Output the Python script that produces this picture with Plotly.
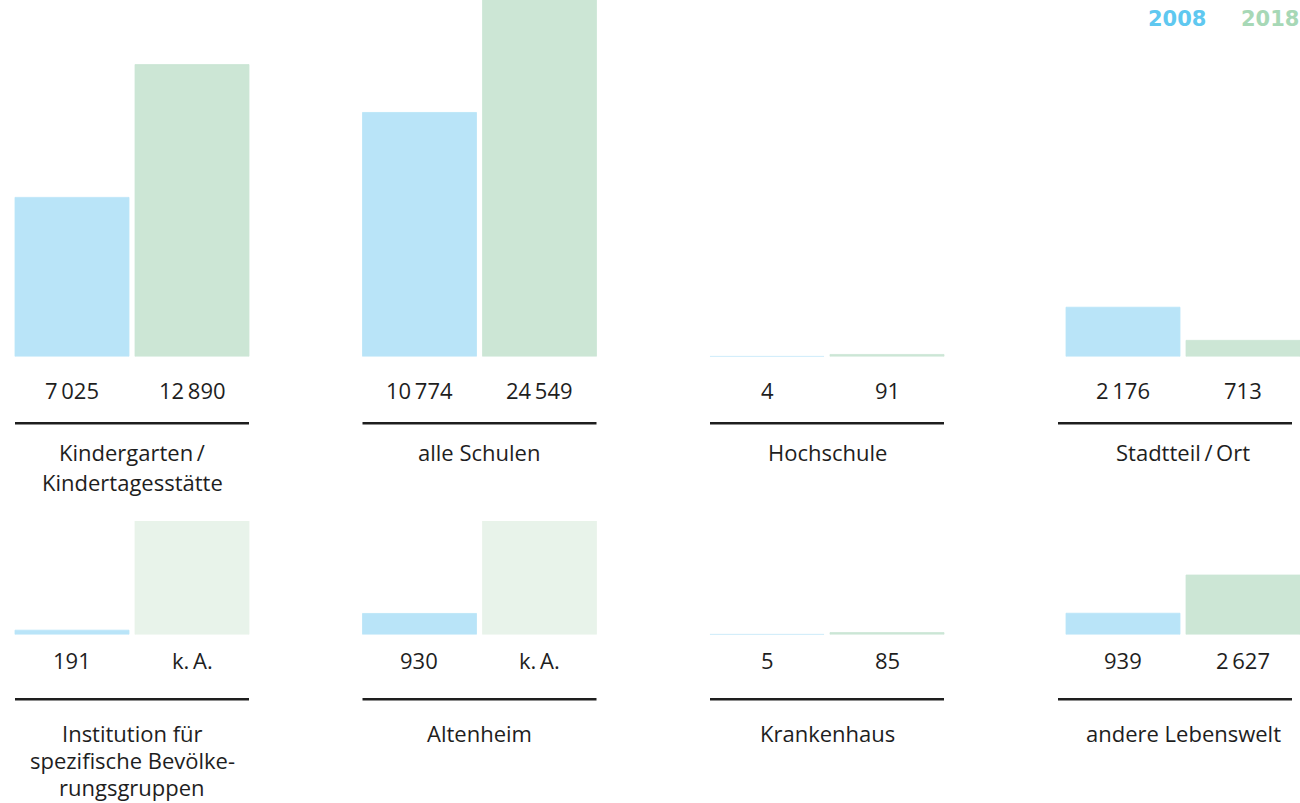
import plotly.graph_objects as go

# Data: two survey years for eight settings
categories = [
    ["Kindergarten\u2009/", "Kindertagesstätte"],
    ["alle Schulen"],
    ["Hochschule"],
    ["Stadtteil\u2009/\u2009Ort"],
    ["Institution für", "spezifische Bevölke-", "rungsgruppen"],
    ["Altenheim"],
    ["Krankenhaus"],
    ["andere Lebenswelt"],
]
years = ["2008", "2018"]
values_2008 = [7025, 10774, 4, 2176, 191, 930, 5, 939]
values_2018 = [12890, 24549, 91, 713, None, None, 85, 2627]
missing_label = "k.\u2009A."

# Styling
W, H = 1300, 803
C_2008 = "#b9e4f8"
C_2018 = "#cce6d5"
C_MISSING = "#e8f3ea"
C_LEG_2008 = "#5fc8f0"
C_LEG_2018 = "#a7d8b6"
TEXT = "#1e1e1e"
FONT = "Open Sans"
FS = 22

PX_PER_UNIT = 0.02265          # vertical scale shared by both rows
PANEL_LEFT = [15, 362.5, 710, 1058]
BAR_SHIFT = [0, 0, 0, 8]
PANEL_W = 234
BAR_SLOT = 120                 # pixels per bar slot
BAR_W = 0.95                   # bar width as share of slot

rows = [
    # baseline, plot top, rule y, value label y, first label line y, line step
    dict(base=356.5, top=0, rule=423.3, val=390, cat=452, step=30),
    dict(base=634.5, top=521, rule=699.3, val=660, cat=733, step=27),
]


def py(px):
    return 1 - px / H


def fmt(v):
    if v is None:
        return missing_label
    s = f"{v:,}"
    return s.replace(",", "\u2009")


fig = go.Figure()
annotations = []
shapes = []

for i, cat_lines in enumerate(categories):
    r = rows[i // 4]
    col = i % 4
    n = i + 1
    xa = "x" if n == 1 else f"x{n}"
    ya = "y" if n == 1 else f"y{n}"

    bar_left = PANEL_LEFT[col] + BAR_SHIFT[col]
    d0 = bar_left - BAR_SLOT * (1 - BAR_W) / 2
    d1 = min(d0 + 2 * BAR_SLOT, W)
    xr = [-0.5, -0.5 + (d1 - d0) / BAR_SLOT]
    ymax = (r["base"] - r["top"]) / PX_PER_UNIT

    v08, v18 = values_2008[i], values_2018[i]
    ys = [v08, v18 if v18 is not None else ymax]
    cols = [C_2008, C_2018 if v18 is not None else C_MISSING]

    fig.add_trace(go.Bar(
        x=[0, 1], y=ys, width=BAR_W,
        marker=dict(color=cols, line=dict(color=cols, width=0.8)),
        xaxis=xa, yaxis=ya, showlegend=False, hoverinfo="skip",
    ))

    fig.layout[("xaxis" if n == 1 else f"xaxis{n}")] = dict(
        domain=[d0 / W, d1 / W], range=xr, visible=False, anchor=ya,
        fixedrange=True,
    )
    fig.layout[("yaxis" if n == 1 else f"yaxis{n}")] = dict(
        domain=[py(r["base"]), py(r["top"])], range=[0, ymax],
        visible=False, anchor=xa, fixedrange=True,
    )

    for j, v in enumerate([v08, v18]):
        annotations.append(dict(
            x=j, xref=xa, y=py(r["val"]), yref="paper",
            text=fmt(v), showarrow=False, xanchor="center", yanchor="middle",
            font=dict(family=FONT, size=FS, color=TEXT),
        ))

    for k, line in enumerate(cat_lines):
        annotations.append(dict(
            x=(bar_left + PANEL_W / 2) / W, xref="paper",
            y=py(r["cat"] + k * r["step"]), yref="paper",
            text=line, showarrow=False, xanchor="center", yanchor="middle",
            font=dict(family=FONT, size=FS, color=TEXT),
        ))

    shapes.append(dict(
        type="line", xref="paper", yref="paper",
        x0=PANEL_LEFT[col] / W, x1=(PANEL_LEFT[col] + PANEL_W) / W,
        y0=py(r["rule"]), y1=py(r["rule"]),
        line=dict(color=TEXT, width=2.6),
    ))

# Year key, top right
for label, color, xpx in [(years[0], C_LEG_2008, 1207), (years[1], C_LEG_2018, 1300)]:
    annotations.append(dict(
        x=xpx / W, xref="paper", y=py(19), yref="paper",
        text=f"<b>{label}</b>", showarrow=False, xanchor="right", yanchor="middle",
        font=dict(family="DejaVu Sans", size=21, color=color),
        borderpad=0,
    ))

fig.update_layout(
    width=W, height=H,
    margin=dict(l=0, r=0, t=0, b=0),
    paper_bgcolor="white", plot_bgcolor="white",
    annotations=annotations, shapes=shapes,
    barmode="overlay",
)

fig.write_html("out.html", config={"displayModeBar": False})
